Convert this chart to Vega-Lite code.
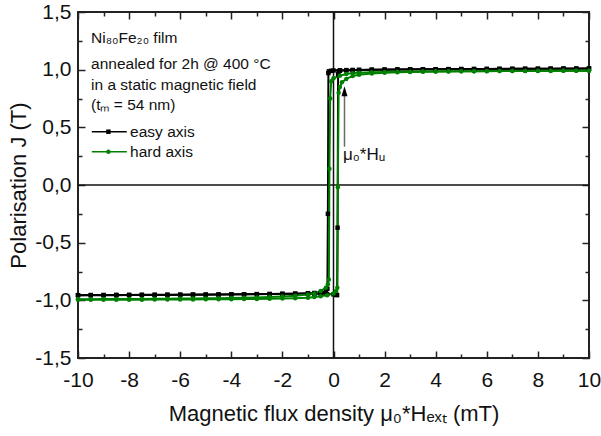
{
  "$schema": "https://vega.github.io/schema/vega-lite/v6.json",
  "width": 511,
  "height": 346,
  "autosize": {"type": "none"},
  "padding": {"left": 78, "top": 12, "right": 12, "bottom": 78},
  "background": "white",
  "config": {
    "axis": {"grid": false, "domain": false, "tickColor": "#222", "tickWidth": 1.5, "labelFont": "Liberation Sans", "labelFontSize": 21, "labelColor": "#111", "labelFlush": false, "labelOverlap": false, "titleFont": "Liberation Sans", "titleFontSize": 22, "titleFontWeight": "normal", "titleColor": "#111"},
    "view": {"stroke": "#222", "strokeWidth": 2},
    "text": {"font": "Liberation Sans"}
  },
  "resolve": {"axis": {"x": "independent", "y": "independent"}},
  "layer": [
    {
      "data": {"values": [{"B": 0}]},
      "mark": {"type": "rule", "color": "#111", "strokeWidth": 1.5},
      "encoding": {
        "x": {"field": "B", "type": "quantitative", "scale": {"domain": [-10, 10], "nice": false},
          "axis": {"orient": "top", "values": [-10, -8, -6, -4, -2, 0, 2, 4, 6, 8, 10], "tickSize": -7, "labels": false, "title": null}}
      }
    },
    {
      "data": {"values": [{"J": 0}]},
      "mark": {"type": "rule", "color": "#111", "strokeWidth": 1.5},
      "encoding": {
        "y": {"field": "J", "type": "quantitative", "scale": {"domain": [-1.5, 1.5], "nice": false, "zero": false},
          "axis": {"orient": "right", "values": [-1.5, -1, -0.5, 0, 0.5, 1, 1.5], "tickSize": -7, "labels": false, "title": null}}
      }
    },
    {
      "data": {"values": [{"B": 0.43, "J": 0.332, "J2": 0.82}]},
      "mark": {"type": "rule", "color": "#6a6a6a", "strokeWidth": 1.5},
      "encoding": {
        "x": {"field": "B", "type": "quantitative", "scale": {"domain": [-10, 10], "nice": false},
          "axis": {"orient": "top", "values": [-9, -7, -5, -3, -1, 1, 3, 5, 7, 9], "tickSize": -4, "labels": false, "title": null}},
        "y": {"field": "J", "type": "quantitative", "scale": {"domain": [-1.5, 1.5], "nice": false, "zero": false},
          "axis": {"orient": "right", "values": [-1.25, -0.75, -0.25, 0.25, 0.75, 1.25], "tickSize": -4, "labels": false, "title": null}},
        "y2": {"field": "J2"}
      }
    },
    {
      "data": {"name": "loops"},
      "mark": {"type": "line", "strokeWidth": 2},
      "encoding": {
        "x": {"field": "B", "type": "quantitative", "scale": {"domain": [-10, 10], "nice": false},
          "axis": {"orient": "bottom", "values": [-10, -8, -6, -4, -2, 0, 2, 4, 6, 8, 10], "tickSize": -7, "labelPadding": 18, "labelExpr": "replace(format(datum.value, 'd'), '\u2212', '-')", "title": "Magnetic flux density μ₀*Hₑₓₜ (mT)", "titleY": 62, "titleBaseline": "alphabetic"}},
        "y": {"field": "J", "type": "quantitative", "scale": {"domain": [-1.5, 1.5], "nice": false, "zero": false},
          "axis": {"orient": "left", "values": [-1.5, -1, -0.5, 0, 0.5, 1, 1.5], "tickSize": -7, "labelPadding": 14, "labelExpr": "replace(replace(format(datum.value, '.1f'), '.', ','), '\u2212', '-')", "title": "Polarisation J (T)", "titleX": -53, "titleY": 173, "titleAngle": -90, "titleBaseline": "alphabetic", "titleAlign": "center"}},
        "color": {"field": "sample", "type": "nominal", "scale": {"domain": ["easy axis", "hard axis"], "range": ["#000000", "#008000"]}, "legend": null},
        "detail": {"field": "branch"}
      }
    },
    {
      "data": {"name": "loops"},
      "mark": {"type": "point", "filled": true, "size": 20, "opacity": 1},
      "encoding": {
        "x": {"field": "B", "type": "quantitative", "scale": {"domain": [-10, 10], "nice": false},
          "axis": {"orient": "bottom", "values": [-9, -7, -5, -3, -1, 1, 3, 5, 7, 9], "tickSize": -4, "labels": false, "title": null}},
        "y": {"field": "J", "type": "quantitative", "scale": {"domain": [-1.5, 1.5], "nice": false, "zero": false},
          "axis": {"orient": "left", "values": [-1.25, -0.75, -0.25, 0.25, 0.75, 1.25], "tickSize": -4, "labels": false, "title": null}},
        "color": {"field": "sample", "type": "nominal", "legend": null},
        "shape": {"field": "sample", "type": "nominal", "scale": {"domain": ["easy axis", "hard axis"], "range": ["square", "circle"]}, "legend": null}
      }
    },
    {
      "data": {"values": [{"B": 0.43, "J": 0.813}]},
      "mark": {"type": "point", "filled": true, "color": "#000", "opacity": 1, "size": 100, "shape": "M0,-1L0.6,1L-0.6,1Z"},
      "encoding": {
        "x": {"field": "B", "type": "quantitative", "axis": null},
        "y": {"field": "J", "type": "quantitative", "axis": null}
      }
    },
    {
      "data": {"values": [{"B": 0.37, "J": 0.217, "t": "μ₀*Hᵤ"}]},
      "mark": {"type": "text", "align": "left", "baseline": "alphabetic", "fontSize": 17, "color": "#111"},
      "encoding": {
        "x": {"field": "B", "type": "quantitative", "axis": null},
        "y": {"field": "J", "type": "quantitative", "axis": null},
        "text": {"field": "t"}
      }
    },
    {
      "data": {"values": [
        {"B": -9.49, "J": 1.229, "t": "Ni₈₀Fe₂₀ film"},
        {"B": -9.49, "J": 1.006, "t": "annealed for 2h @ 400 °C"},
        {"B": -9.49, "J": 0.824, "t": "in a static magnetic field"},
        {"B": -9.49, "J": 0.65, "t": "(tₘ = 54 nm)"}
      ]},
      "mark": {"type": "text", "align": "left", "baseline": "alphabetic", "fontSize": 15.5, "color": "#111"},
      "encoding": {
        "x": {"field": "B", "type": "quantitative", "axis": null},
        "y": {"field": "J", "type": "quantitative", "axis": null},
        "text": {"field": "t"}
      }
    },
    {
      "data": {"name": "legend"},
      "mark": {"type": "rule", "strokeWidth": 1.5},
      "encoding": {
        "x": {"field": "B", "type": "quantitative", "axis": null},
        "x2": {"field": "B2"},
        "y": {"field": "J", "type": "quantitative", "axis": null},
        "color": {"field": "sample", "type": "nominal", "legend": null}
      }
    },
    {
      "data": {"name": "legend"},
      "mark": {"type": "point", "filled": true, "size": 20, "opacity": 1},
      "encoding": {
        "x": {"field": "Bm", "type": "quantitative", "axis": null},
        "y": {"field": "J", "type": "quantitative", "axis": null},
        "color": {"field": "sample", "type": "nominal", "legend": null},
        "shape": {"field": "sample", "type": "nominal", "legend": null}
      }
    },
    {
      "data": {"name": "legend"},
      "mark": {"type": "text", "align": "left", "baseline": "middle", "fontSize": 15.5, "color": "#111"},
      "encoding": {
        "x": {"field": "Bt", "type": "quantitative", "axis": null},
        "y": {"field": "J", "type": "quantitative", "axis": null},
        "text": {"field": "sample"}
      }
    }
  ],
  "datasets": {
    "legend": [
      {"sample": "easy axis", "B": -9.46, "B2": -8.09, "Bm": -8.81, "Bt": -7.96, "J": 0.462},
      {"sample": "hard axis", "B": -9.46, "B2": -8.09, "Bm": -8.81, "Bt": -7.96, "J": 0.289}
    ],
    "loops": [
      {"sample": "easy axis", "branch": "easy down", "B": 10, "J": 1.01},
      {"sample": "easy axis", "branch": "easy down", "B": 9.5, "J": 1.01},
      {"sample": "easy axis", "branch": "easy down", "B": 9, "J": 1.01},
      {"sample": "easy axis", "branch": "easy down", "B": 8.5, "J": 1.009},
      {"sample": "easy axis", "branch": "easy down", "B": 8, "J": 1.008},
      {"sample": "easy axis", "branch": "easy down", "B": 7.5, "J": 1.008},
      {"sample": "easy axis", "branch": "easy down", "B": 7, "J": 1.007},
      {"sample": "easy axis", "branch": "easy down", "B": 6.5, "J": 1.007},
      {"sample": "easy axis", "branch": "easy down", "B": 6, "J": 1.006},
      {"sample": "easy axis", "branch": "easy down", "B": 5.5, "J": 1.006},
      {"sample": "easy axis", "branch": "easy down", "B": 5, "J": 1.005},
      {"sample": "easy axis", "branch": "easy down", "B": 4.5, "J": 1.005},
      {"sample": "easy axis", "branch": "easy down", "B": 4, "J": 1.004},
      {"sample": "easy axis", "branch": "easy down", "B": 3.5, "J": 1.003},
      {"sample": "easy axis", "branch": "easy down", "B": 3, "J": 1.003},
      {"sample": "easy axis", "branch": "easy down", "B": 2.5, "J": 1.002},
      {"sample": "easy axis", "branch": "easy down", "B": 2, "J": 1.001},
      {"sample": "easy axis", "branch": "easy down", "B": 1.5, "J": 1.0},
      {"sample": "easy axis", "branch": "easy down", "B": 1, "J": 0.998},
      {"sample": "easy axis", "branch": "easy down", "B": 0.75, "J": 0.997},
      {"sample": "easy axis", "branch": "easy down", "B": 0.5, "J": 0.996},
      {"sample": "easy axis", "branch": "easy down", "B": 0.25, "J": 0.995},
      {"sample": "easy axis", "branch": "easy down", "B": 0, "J": 0.993},
      {"sample": "easy axis", "branch": "easy down", "B": -0.1, "J": 0.99},
      {"sample": "easy axis", "branch": "easy down", "B": -0.18, "J": 0.985},
      {"sample": "easy axis", "branch": "easy down", "B": -0.2, "J": 0.97},
      {"sample": "easy axis", "branch": "easy down", "B": -0.22, "J": -0.25},
      {"sample": "easy axis", "branch": "easy down", "B": -0.24, "J": -0.9},
      {"sample": "easy axis", "branch": "easy down", "B": -0.3, "J": -0.925},
      {"sample": "easy axis", "branch": "easy down", "B": -0.5, "J": -0.932},
      {"sample": "easy axis", "branch": "easy down", "B": -0.75, "J": -0.936},
      {"sample": "easy axis", "branch": "easy down", "B": -1, "J": -0.938},
      {"sample": "easy axis", "branch": "easy down", "B": -1.5, "J": -0.941},
      {"sample": "easy axis", "branch": "easy down", "B": -2, "J": -0.943},
      {"sample": "easy axis", "branch": "easy down", "B": -2.5, "J": -0.945},
      {"sample": "easy axis", "branch": "easy down", "B": -3, "J": -0.946},
      {"sample": "easy axis", "branch": "easy down", "B": -3.5, "J": -0.947},
      {"sample": "easy axis", "branch": "easy down", "B": -4, "J": -0.948},
      {"sample": "easy axis", "branch": "easy down", "B": -4.5, "J": -0.949},
      {"sample": "easy axis", "branch": "easy down", "B": -5, "J": -0.95},
      {"sample": "easy axis", "branch": "easy down", "B": -5.5, "J": -0.95},
      {"sample": "easy axis", "branch": "easy down", "B": -6, "J": -0.951},
      {"sample": "easy axis", "branch": "easy down", "B": -6.5, "J": -0.951},
      {"sample": "easy axis", "branch": "easy down", "B": -7, "J": -0.952},
      {"sample": "easy axis", "branch": "easy down", "B": -7.5, "J": -0.952},
      {"sample": "easy axis", "branch": "easy down", "B": -8, "J": -0.953},
      {"sample": "easy axis", "branch": "easy down", "B": -8.5, "J": -0.953},
      {"sample": "easy axis", "branch": "easy down", "B": -9, "J": -0.954},
      {"sample": "easy axis", "branch": "easy down", "B": -9.5, "J": -0.954},
      {"sample": "easy axis", "branch": "easy down", "B": -10, "J": -0.955},
      {"sample": "easy axis", "branch": "easy up", "B": -10, "J": -0.956},
      {"sample": "easy axis", "branch": "easy up", "B": -9.5, "J": -0.956},
      {"sample": "easy axis", "branch": "easy up", "B": -9, "J": -0.955},
      {"sample": "easy axis", "branch": "easy up", "B": -8.5, "J": -0.955},
      {"sample": "easy axis", "branch": "easy up", "B": -8, "J": -0.954},
      {"sample": "easy axis", "branch": "easy up", "B": -7.5, "J": -0.954},
      {"sample": "easy axis", "branch": "easy up", "B": -7, "J": -0.953},
      {"sample": "easy axis", "branch": "easy up", "B": -6.5, "J": -0.953},
      {"sample": "easy axis", "branch": "easy up", "B": -6, "J": -0.952},
      {"sample": "easy axis", "branch": "easy up", "B": -5.5, "J": -0.951},
      {"sample": "easy axis", "branch": "easy up", "B": -5, "J": -0.951},
      {"sample": "easy axis", "branch": "easy up", "B": -4.5, "J": -0.95},
      {"sample": "easy axis", "branch": "easy up", "B": -4, "J": -0.949},
      {"sample": "easy axis", "branch": "easy up", "B": -3.5, "J": -0.948},
      {"sample": "easy axis", "branch": "easy up", "B": -3, "J": -0.947},
      {"sample": "easy axis", "branch": "easy up", "B": -2.5, "J": -0.946},
      {"sample": "easy axis", "branch": "easy up", "B": -2, "J": -0.945},
      {"sample": "easy axis", "branch": "easy up", "B": -1.5, "J": -0.944},
      {"sample": "easy axis", "branch": "easy up", "B": -1, "J": -0.943},
      {"sample": "easy axis", "branch": "easy up", "B": -0.75, "J": -0.943},
      {"sample": "easy axis", "branch": "easy up", "B": -0.5, "J": -0.944},
      {"sample": "easy axis", "branch": "easy up", "B": -0.25, "J": -0.946},
      {"sample": "easy axis", "branch": "easy up", "B": 0, "J": -0.948},
      {"sample": "easy axis", "branch": "easy up", "B": 0.1, "J": -0.952},
      {"sample": "easy axis", "branch": "easy up", "B": 0.14, "J": -0.955},
      {"sample": "easy axis", "branch": "easy up", "B": 0.16, "J": -0.37},
      {"sample": "easy axis", "branch": "easy up", "B": 0.18, "J": 0.96},
      {"sample": "easy axis", "branch": "easy up", "B": 0.2, "J": 0.985},
      {"sample": "easy axis", "branch": "easy up", "B": 0.25, "J": 0.99},
      {"sample": "easy axis", "branch": "easy up", "B": 0.5, "J": 0.994},
      {"sample": "easy axis", "branch": "easy up", "B": 0.75, "J": 0.996},
      {"sample": "easy axis", "branch": "easy up", "B": 1, "J": 0.997},
      {"sample": "easy axis", "branch": "easy up", "B": 1.5, "J": 0.999},
      {"sample": "easy axis", "branch": "easy up", "B": 2, "J": 1.0},
      {"sample": "easy axis", "branch": "easy up", "B": 2.5, "J": 1.001},
      {"sample": "easy axis", "branch": "easy up", "B": 3, "J": 1.002},
      {"sample": "easy axis", "branch": "easy up", "B": 3.5, "J": 1.003},
      {"sample": "easy axis", "branch": "easy up", "B": 4, "J": 1.004},
      {"sample": "easy axis", "branch": "easy up", "B": 4.5, "J": 1.004},
      {"sample": "easy axis", "branch": "easy up", "B": 5, "J": 1.005},
      {"sample": "easy axis", "branch": "easy up", "B": 5.5, "J": 1.005},
      {"sample": "easy axis", "branch": "easy up", "B": 6, "J": 1.006},
      {"sample": "easy axis", "branch": "easy up", "B": 6.5, "J": 1.006},
      {"sample": "easy axis", "branch": "easy up", "B": 7, "J": 1.007},
      {"sample": "easy axis", "branch": "easy up", "B": 7.5, "J": 1.007},
      {"sample": "easy axis", "branch": "easy up", "B": 8, "J": 1.008},
      {"sample": "easy axis", "branch": "easy up", "B": 8.5, "J": 1.008},
      {"sample": "easy axis", "branch": "easy up", "B": 9, "J": 1.009},
      {"sample": "easy axis", "branch": "easy up", "B": 9.5, "J": 1.009},
      {"sample": "easy axis", "branch": "easy up", "B": 10, "J": 1.01},
      {"sample": "hard axis", "branch": "hard down", "B": 10, "J": 0.99},
      {"sample": "hard axis", "branch": "hard down", "B": 9.5, "J": 0.99},
      {"sample": "hard axis", "branch": "hard down", "B": 9, "J": 0.99},
      {"sample": "hard axis", "branch": "hard down", "B": 8.5, "J": 0.989},
      {"sample": "hard axis", "branch": "hard down", "B": 8, "J": 0.989},
      {"sample": "hard axis", "branch": "hard down", "B": 7.5, "J": 0.989},
      {"sample": "hard axis", "branch": "hard down", "B": 7, "J": 0.988},
      {"sample": "hard axis", "branch": "hard down", "B": 6.5, "J": 0.988},
      {"sample": "hard axis", "branch": "hard down", "B": 6, "J": 0.987},
      {"sample": "hard axis", "branch": "hard down", "B": 5.5, "J": 0.987},
      {"sample": "hard axis", "branch": "hard down", "B": 5, "J": 0.986},
      {"sample": "hard axis", "branch": "hard down", "B": 4.5, "J": 0.986},
      {"sample": "hard axis", "branch": "hard down", "B": 4, "J": 0.985},
      {"sample": "hard axis", "branch": "hard down", "B": 3.5, "J": 0.984},
      {"sample": "hard axis", "branch": "hard down", "B": 3, "J": 0.983},
      {"sample": "hard axis", "branch": "hard down", "B": 2.5, "J": 0.982},
      {"sample": "hard axis", "branch": "hard down", "B": 2, "J": 0.98},
      {"sample": "hard axis", "branch": "hard down", "B": 1.5, "J": 0.978},
      {"sample": "hard axis", "branch": "hard down", "B": 1, "J": 0.974},
      {"sample": "hard axis", "branch": "hard down", "B": 0.75, "J": 0.97},
      {"sample": "hard axis", "branch": "hard down", "B": 0.5, "J": 0.962},
      {"sample": "hard axis", "branch": "hard down", "B": 0.25, "J": 0.948},
      {"sample": "hard axis", "branch": "hard down", "B": 0, "J": 0.925},
      {"sample": "hard axis", "branch": "hard down", "B": -0.09, "J": 0.9},
      {"sample": "hard axis", "branch": "hard down", "B": -0.13, "J": 0.75},
      {"sample": "hard axis", "branch": "hard down", "B": -0.16, "J": 0.14},
      {"sample": "hard axis", "branch": "hard down", "B": -0.18, "J": -0.82},
      {"sample": "hard axis", "branch": "hard down", "B": -0.22, "J": -0.86},
      {"sample": "hard axis", "branch": "hard down", "B": -0.3, "J": -0.89},
      {"sample": "hard axis", "branch": "hard down", "B": -0.5, "J": -0.92},
      {"sample": "hard axis", "branch": "hard down", "B": -0.75, "J": -0.94},
      {"sample": "hard axis", "branch": "hard down", "B": -1, "J": -0.95},
      {"sample": "hard axis", "branch": "hard down", "B": -1.5, "J": -0.96},
      {"sample": "hard axis", "branch": "hard down", "B": -2, "J": -0.967},
      {"sample": "hard axis", "branch": "hard down", "B": -2.5, "J": -0.972},
      {"sample": "hard axis", "branch": "hard down", "B": -3, "J": -0.975},
      {"sample": "hard axis", "branch": "hard down", "B": -3.5, "J": -0.978},
      {"sample": "hard axis", "branch": "hard down", "B": -4, "J": -0.98},
      {"sample": "hard axis", "branch": "hard down", "B": -4.5, "J": -0.982},
      {"sample": "hard axis", "branch": "hard down", "B": -5, "J": -0.983},
      {"sample": "hard axis", "branch": "hard down", "B": -5.5, "J": -0.984},
      {"sample": "hard axis", "branch": "hard down", "B": -6, "J": -0.985},
      {"sample": "hard axis", "branch": "hard down", "B": -6.5, "J": -0.986},
      {"sample": "hard axis", "branch": "hard down", "B": -7, "J": -0.987},
      {"sample": "hard axis", "branch": "hard down", "B": -7.5, "J": -0.988},
      {"sample": "hard axis", "branch": "hard down", "B": -8, "J": -0.988},
      {"sample": "hard axis", "branch": "hard down", "B": -8.5, "J": -0.989},
      {"sample": "hard axis", "branch": "hard down", "B": -9, "J": -0.989},
      {"sample": "hard axis", "branch": "hard down", "B": -9.5, "J": -0.99},
      {"sample": "hard axis", "branch": "hard down", "B": -10, "J": -0.99},
      {"sample": "hard axis", "branch": "hard up", "B": -10, "J": -0.995},
      {"sample": "hard axis", "branch": "hard up", "B": -9.5, "J": -0.995},
      {"sample": "hard axis", "branch": "hard up", "B": -9, "J": -0.995},
      {"sample": "hard axis", "branch": "hard up", "B": -8.5, "J": -0.994},
      {"sample": "hard axis", "branch": "hard up", "B": -8, "J": -0.994},
      {"sample": "hard axis", "branch": "hard up", "B": -7.5, "J": -0.994},
      {"sample": "hard axis", "branch": "hard up", "B": -7, "J": -0.993},
      {"sample": "hard axis", "branch": "hard up", "B": -6.5, "J": -0.993},
      {"sample": "hard axis", "branch": "hard up", "B": -6, "J": -0.992},
      {"sample": "hard axis", "branch": "hard up", "B": -5.5, "J": -0.992},
      {"sample": "hard axis", "branch": "hard up", "B": -5, "J": -0.991},
      {"sample": "hard axis", "branch": "hard up", "B": -4.5, "J": -0.991},
      {"sample": "hard axis", "branch": "hard up", "B": -4, "J": -0.99},
      {"sample": "hard axis", "branch": "hard up", "B": -3.5, "J": -0.989},
      {"sample": "hard axis", "branch": "hard up", "B": -3, "J": -0.988},
      {"sample": "hard axis", "branch": "hard up", "B": -2.5, "J": -0.987},
      {"sample": "hard axis", "branch": "hard up", "B": -2, "J": -0.985},
      {"sample": "hard axis", "branch": "hard up", "B": -1.5, "J": -0.982},
      {"sample": "hard axis", "branch": "hard up", "B": -1, "J": -0.977},
      {"sample": "hard axis", "branch": "hard up", "B": -0.75, "J": -0.972},
      {"sample": "hard axis", "branch": "hard up", "B": -0.5, "J": -0.965},
      {"sample": "hard axis", "branch": "hard up", "B": -0.25, "J": -0.955},
      {"sample": "hard axis", "branch": "hard up", "B": 0, "J": -0.94},
      {"sample": "hard axis", "branch": "hard up", "B": 0.1, "J": -0.92},
      {"sample": "hard axis", "branch": "hard up", "B": 0.15, "J": -0.89},
      {"sample": "hard axis", "branch": "hard up", "B": 0.17, "J": -0.02},
      {"sample": "hard axis", "branch": "hard up", "B": 0.2, "J": 0.8},
      {"sample": "hard axis", "branch": "hard up", "B": 0.25, "J": 0.85},
      {"sample": "hard axis", "branch": "hard up", "B": 0.33, "J": 0.89},
      {"sample": "hard axis", "branch": "hard up", "B": 0.5, "J": 0.92},
      {"sample": "hard axis", "branch": "hard up", "B": 0.75, "J": 0.945},
      {"sample": "hard axis", "branch": "hard up", "B": 1, "J": 0.955},
      {"sample": "hard axis", "branch": "hard up", "B": 1.5, "J": 0.966},
      {"sample": "hard axis", "branch": "hard up", "B": 2, "J": 0.973},
      {"sample": "hard axis", "branch": "hard up", "B": 2.5, "J": 0.977},
      {"sample": "hard axis", "branch": "hard up", "B": 3, "J": 0.98},
      {"sample": "hard axis", "branch": "hard up", "B": 3.5, "J": 0.982},
      {"sample": "hard axis", "branch": "hard up", "B": 4, "J": 0.984},
      {"sample": "hard axis", "branch": "hard up", "B": 4.5, "J": 0.985},
      {"sample": "hard axis", "branch": "hard up", "B": 5, "J": 0.986},
      {"sample": "hard axis", "branch": "hard up", "B": 5.5, "J": 0.987},
      {"sample": "hard axis", "branch": "hard up", "B": 6, "J": 0.988},
      {"sample": "hard axis", "branch": "hard up", "B": 6.5, "J": 0.988},
      {"sample": "hard axis", "branch": "hard up", "B": 7, "J": 0.989},
      {"sample": "hard axis", "branch": "hard up", "B": 7.5, "J": 0.989},
      {"sample": "hard axis", "branch": "hard up", "B": 8, "J": 0.99},
      {"sample": "hard axis", "branch": "hard up", "B": 8.5, "J": 0.99},
      {"sample": "hard axis", "branch": "hard up", "B": 9, "J": 0.99},
      {"sample": "hard axis", "branch": "hard up", "B": 9.5, "J": 0.99},
      {"sample": "hard axis", "branch": "hard up", "B": 10, "J": 0.99}
    ]
  }
}
